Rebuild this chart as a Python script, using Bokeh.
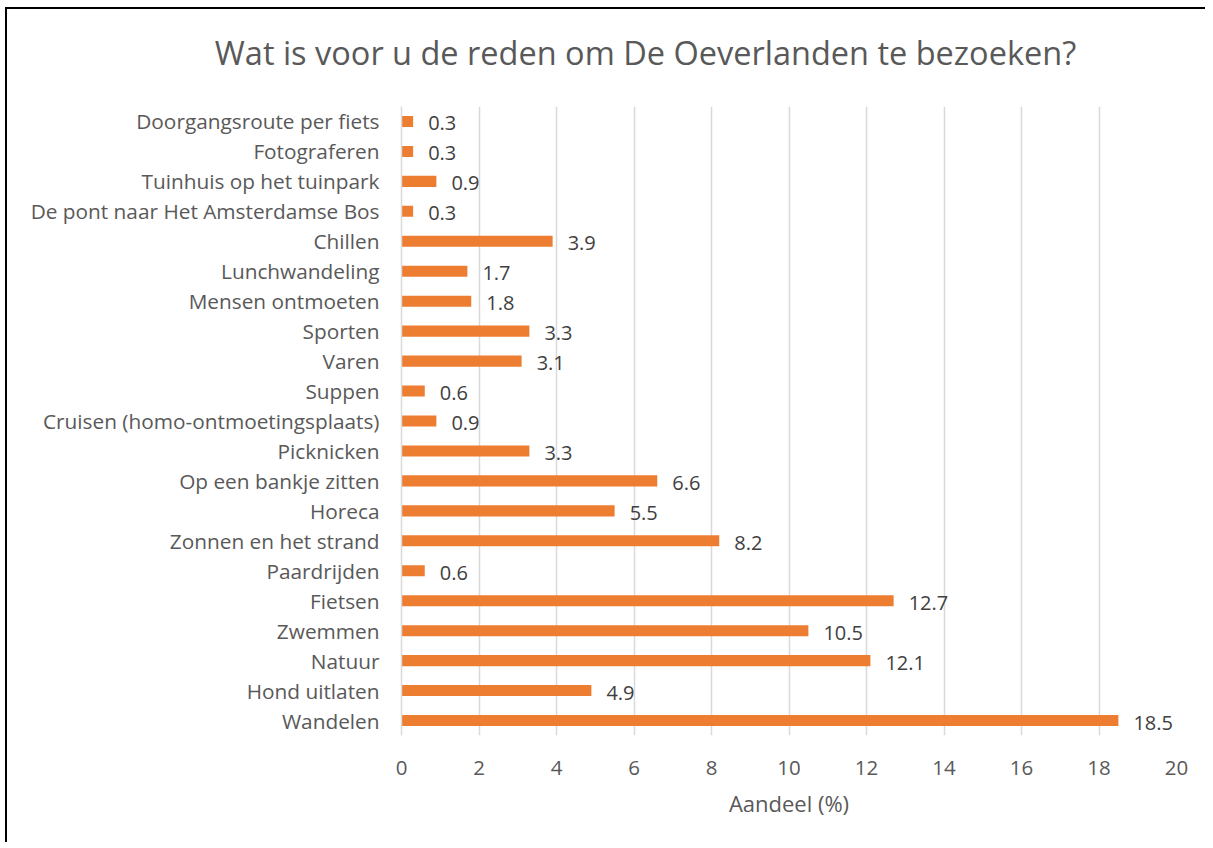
from bokeh.plotting import figure
from bokeh.models import ColumnDataSource, FactorRange, Range1d, SingleIntervalTicker, Label, LabelSet
from bokeh.core.properties import value
from bokeh.embed import file_html
from bokeh.resources import INLINE

categories = [
    "Doorgangsroute per fiets", "Fotograferen", "Tuinhuis op het tuinpark",
    "De pont naar Het Amsterdamse Bos", "Chillen", "Lunchwandeling",
    "Mensen ontmoeten", "Sporten", "Varen", "Suppen",
    "Cruisen (homo-ontmoetingsplaats)", "Picknicken", "Op een bankje zitten",
    "Horeca", "Zonnen en het strand", "Paardrijden", "Fietsen", "Zwemmen",
    "Natuur", "Hond uitlaten", "Wandelen",
]
values = [0.3, 0.3, 0.9, 0.3, 3.9, 1.7, 1.8, 3.3, 3.1, 0.6, 0.9, 3.3, 6.6,
          5.5, 8.2, 0.6, 12.7, 10.5, 12.1, 4.9, 18.5]
title_text = "Wat is voor u de reden om De Oeverlanden te bezoeken?"
x_label = "Aandeel (%)"

FONT = "Open Sans"
GREY = "#595959"
ORANGE = "#ED7D31"

factors = list(reversed(categories))
src = ColumnDataSource(dict(
    cat=categories,
    val=values,
    lbl=[f"{v:.1f}" for v in values],
))

W, H = 1200, 835
p = figure(
    width=W, height=H,
    y_range=FactorRange(factors=factors, range_padding=0),
    x_range=Range1d(0, 20),
    output_backend="svg", toolbar_location=None,
    min_border_left=394, min_border_right=31,
    min_border_top=97, min_border_bottom=109,
)
p.styles = {"border-left": "2px solid black", "border-top": "2px solid black",
            "margin-left": "5px", "margin-top": "7px"}

p.hbar(y="cat", right="val", left=0, height=0.37, source=src,
       fill_color=ORANGE, line_color=None)

labels = LabelSet(x="val", y="cat", text="lbl", source=src,
                  x_offset=15, y_offset=-2, text_align="left",
                  text_baseline="middle", text_font=value(FONT),
                  text_font_size="20px", text_color="#404040")
p.add_layout(labels)

# chart title, centred over the whole chart (not the plot frame)
title = Label(x=244, y=54, x_units="screen", y_units="screen",
              text=title_text, text_align="center", text_baseline="middle",
              text_font=FONT, text_font_size="32.5px", text_color=GREY)
p.add_layout(title, "above")

p.outline_line_color = None
p.ygrid.grid_line_color = None
p.xgrid.grid_line_color = "#d9d9d9"
p.xgrid.grid_line_width = 1.5
p.xaxis.ticker = SingleIntervalTicker(interval=2)
p.xaxis.axis_line_color = None
p.xaxis.major_tick_line_color = None
p.xaxis.minor_tick_line_color = None
p.xaxis.major_label_text_font = FONT
p.xaxis.major_label_text_font_size = "20.5px"
p.xaxis.major_label_text_color = GREY
p.xaxis.major_label_standoff = 19
p.xaxis.axis_label = x_label
p.xaxis.axis_label_text_font = FONT
p.xaxis.axis_label_text_font_size = "22px"
p.xaxis.axis_label_text_font_style = "normal"
p.xaxis.axis_label_text_color = GREY
p.xaxis.axis_label_standoff = 10

p.yaxis.axis_line_color = "#d9d9d9"
p.yaxis.axis_line_width = 1.5
p.yaxis.major_tick_line_color = None
p.yaxis.minor_tick_line_color = None
p.yaxis.major_label_text_font = FONT
p.yaxis.major_label_text_font_size = "20.8px"
p.yaxis.major_label_text_color = GREY
p.yaxis.major_label_standoff = 16

open("out.html", "w").write(file_html(p, INLINE))
